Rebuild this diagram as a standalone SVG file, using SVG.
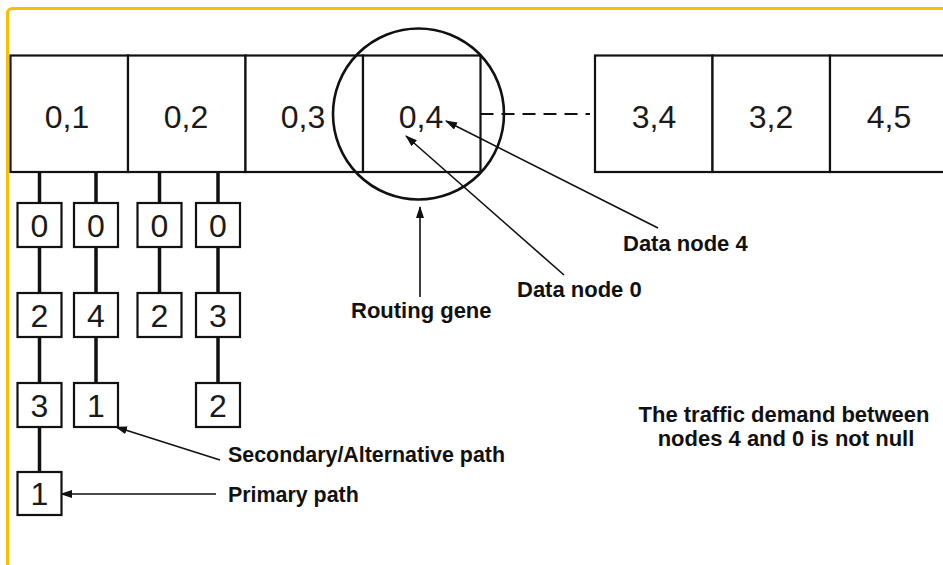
<svg xmlns="http://www.w3.org/2000/svg" width="943" height="565" viewBox="0 0 943 565">
  <style>
    .cell { fill: #ffffff; stroke: #111111; stroke-width: 2.2; }
    .gene { fill: #ffffff; stroke: #111111; stroke-width: 2.2; }
    .num { font-family: "Liberation Sans", Arial, sans-serif; font-size: 32px; fill: #1a1a1a; text-anchor: middle; }
    .lbl { font-family: "Liberation Sans", Arial, sans-serif; font-size: 22px; font-weight: bold; fill: #111111; }
    .small { font-size: 21.4px; }
    .link { stroke: #111111; stroke-width: 3.5; fill: none; }
    .arrow { stroke: #111111; stroke-width: 1.6; fill: none; marker-end: url(#head); }
  </style>
  <defs>
    <marker id="head" viewBox="0 0 12 8" refX="11" refY="4" markerWidth="12" markerHeight="8" markerUnits="userSpaceOnUse" orient="auto">
      <path d="M0,0 L12,4 L0,8 Z" fill="#111111"/>
    </marker>
  </defs>

  <rect x="0" y="0" width="943" height="565" fill="#ffffff"/>
  <!-- frame -->
  <rect x="7.5" y="8.5" width="960" height="600" rx="5" fill="none" stroke="#f7c000" stroke-width="3.2"/>

  <!-- chromosome: routing genes -->
  <g id="gene-0-1"><rect class="cell" x="10.5" y="55.5" width="117.5" height="116.5"/><text class="num" x="67" y="128">0,1</text></g>
  <g id="gene-0-2"><rect class="cell" x="128" y="55.5" width="117.5" height="116.5"/><text class="num" x="186" y="128">0,2</text></g>
  <g id="gene-0-3"><rect class="cell" x="245.5" y="55.5" width="117.5" height="116.5"/><text class="num" x="303" y="128">0,3</text></g>
  <g id="gene-0-4"><rect class="cell" x="363" y="55.5" width="117.5" height="116.5"/><text class="num" x="421" y="128">0,4</text></g>
  <g id="gene-3-4"><rect class="cell" x="595" y="55.5" width="117.5" height="116.5"/><text class="num" x="654" y="128">3,4</text></g>
  <g id="gene-3-2"><rect class="cell" x="712.5" y="55.5" width="117.5" height="116.5"/><text class="num" x="771" y="128">3,2</text></g>
  <g id="gene-4-5"><rect class="cell" x="830" y="55.5" width="117.5" height="116.5"/><text class="num" x="889" y="128">4,5</text></g>

  <!-- connectors -->
  <g id="connectors">
    <line x1="480.5" y1="114" x2="590" y2="114" stroke="#111111" stroke-width="2" stroke-dasharray="13 8"/>
    <!-- path columns -->
    <line class="link" x1="39.5" y1="172" x2="39.5" y2="472"/>
    <line class="link" x1="96" y1="172" x2="96" y2="383"/>
    <line class="link" x1="159.5" y1="172" x2="159.5" y2="293"/>
    <line class="link" x1="218" y1="172" x2="218" y2="383"/>
    <!-- annotation arrows -->
    <line class="arrow" x1="420" y1="297" x2="420" y2="207"/>
    <line class="arrow" x1="564" y1="275" x2="406" y2="136"/>
    <line class="arrow" x1="658" y1="228" x2="446" y2="121"/>
    <line class="arrow" x1="220" y1="460" x2="116" y2="427"/>
    <line class="arrow" x1="216" y1="494" x2="61" y2="494"/>
  </g>

  <!-- highlighted gene -->
  <circle cx="418.5" cy="114" r="85.5" fill="none" stroke="#111111" stroke-width="2.6"/>

  <!-- path node boxes: column 1 -->
  <g id="p1-0"><rect class="gene" x="17.5" y="203" width="44" height="44"/><text class="num" x="39.5" y="237">0</text></g>
  <g id="p1-2"><rect class="gene" x="17.5" y="293" width="44" height="44"/><text class="num" x="39.5" y="327">2</text></g>
  <g id="p1-3"><rect class="gene" x="17.5" y="383" width="44" height="44"/><text class="num" x="39.5" y="417">3</text></g>
  <g id="p1-1"><rect class="gene" x="17.5" y="472" width="44" height="43"/><text class="num" x="39.5" y="505">1</text></g>
  <!-- column 2 -->
  <g id="p2-0"><rect class="gene" x="74" y="203" width="44" height="44"/><text class="num" x="96" y="237">0</text></g>
  <g id="p2-4"><rect class="gene" x="74" y="293" width="44" height="44"/><text class="num" x="96" y="327">4</text></g>
  <g id="p2-1"><rect class="gene" x="74" y="383" width="44" height="44"/><text class="num" x="96" y="417">1</text></g>
  <!-- column 3 -->
  <g id="p3-0"><rect class="gene" x="137.5" y="203" width="44" height="44"/><text class="num" x="159.5" y="237">0</text></g>
  <g id="p3-2"><rect class="gene" x="137.5" y="293" width="44" height="44"/><text class="num" x="159.5" y="327">2</text></g>
  <!-- column 4 -->
  <g id="p4-0"><rect class="gene" x="196" y="203" width="44" height="44"/><text class="num" x="218" y="237">0</text></g>
  <g id="p4-3"><rect class="gene" x="196" y="293" width="44" height="44"/><text class="num" x="218" y="327">3</text></g>
  <g id="p4-2"><rect class="gene" x="196" y="383" width="44" height="44"/><text class="num" x="218" y="417">2</text></g>

  <!-- labels -->
  <g id="labels">
    <text class="lbl" x="351" y="318">Routing gene</text>
    <text class="lbl" x="517" y="297">Data node 0</text>
    <text class="lbl" x="623" y="251">Data node 4</text>
    <text class="lbl small" x="228" y="462">Secondary/Alternative path</text>
    <text class="lbl small" x="228" y="502">Primary path</text>
    <text class="lbl" x="784" y="422" text-anchor="middle">The traffic demand between</text>
    <text class="lbl" x="786" y="446" text-anchor="middle">nodes 4 and 0 is not null</text>
  </g>
</svg>
